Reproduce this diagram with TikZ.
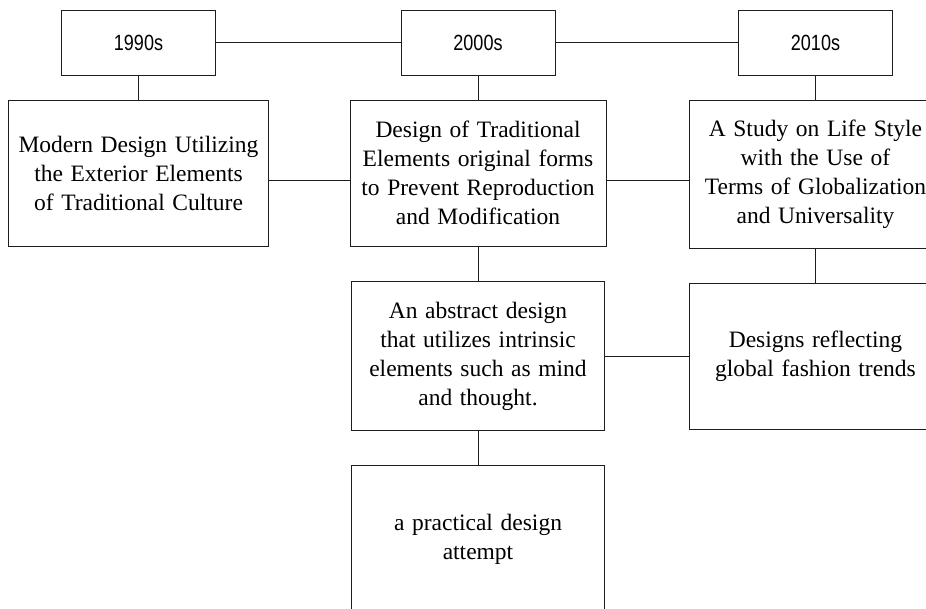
\documentclass[tikz,border=0pt]{standalone}
\usepackage{fontspec}
\setmainfont[WordSpace=1.3]{Liberation Serif}
\newfontfamily\yearfont[FakeStretch=0.82]{Liberation Sans}
\definecolor{frame}{RGB}{30,30,30}
\tikzset{
  year/.style={draw=frame, line width=0.9pt, minimum width=154pt, minimum height=65pt,
    inner sep=0pt, font=\yearfont\fontsize{22}{26}\selectfont},
  topic/.style={draw=frame, line width=0.9pt, inner sep=0pt, align=center,
    font=\fontsize{23.5}{29}\selectfont},
  link/.style={frame, line width=0.9pt}
}

\begin{document}
\begin{tikzpicture}[x=1pt, y=-1pt]
\useasboundingbox (0,0) rectangle (926,609);

\node[year] (y90) at (138.5,42.5) {1990s};
\node[year] (y00) at (478,42.5) {2000s};
\node[year] (y10) at (815.5,42.5) {2010s};

\node[topic, minimum width=260pt, minimum height=146pt] (exterior) at (138.5,173)
  {Modern Design Utilizing\\the Exterior Elements\\of Traditional Culture};
\node[topic, minimum width=256pt, minimum height=146pt] (original) at (478,173)
  {Design of Traditional\\Elements original forms\\to Prevent Reproduction\\and Modification};
\node[topic, minimum width=252pt, minimum height=148pt] (lifestyle) at (815.5,174)
  {A Study on Life Style\\with the Use of\\Terms of Globalization\\and Universality};

\node[topic, minimum width=253pt, minimum height=149pt] (abstract) at (478,356)
  {An abstract design\\that utilizes intrinsic\\elements such as mind\\and thought.};
\node[topic, minimum width=252pt, minimum height=146pt] (global) at (815.5,356)
  {Designs reflecting\\global fashion trends};
\node[topic, minimum width=253pt, minimum height=148pt] (practical) at (478,539)
  {a practical design\\attempt};

\draw[link] (y90) -- (y00);
\draw[link] (y00) -- (y10);
\draw[link] (y90) -- (exterior);
\draw[link] (y00) -- (original);
\draw[link] (y10) -- (lifestyle);
\draw[link] ([yshift=-7.5pt]exterior.east) -- ([yshift=-7.5pt]original.west);
\draw[link] ([yshift=-7.5pt]original.east) -- ([yshift=-7.5pt]lifestyle.west |- original.east);
\draw[link] (original) -- (abstract);
\draw[link] (lifestyle) -- (global);
\draw[link] (abstract) -- (global);
\draw[link] (abstract) -- (practical);
\end{tikzpicture}
\end{document}
